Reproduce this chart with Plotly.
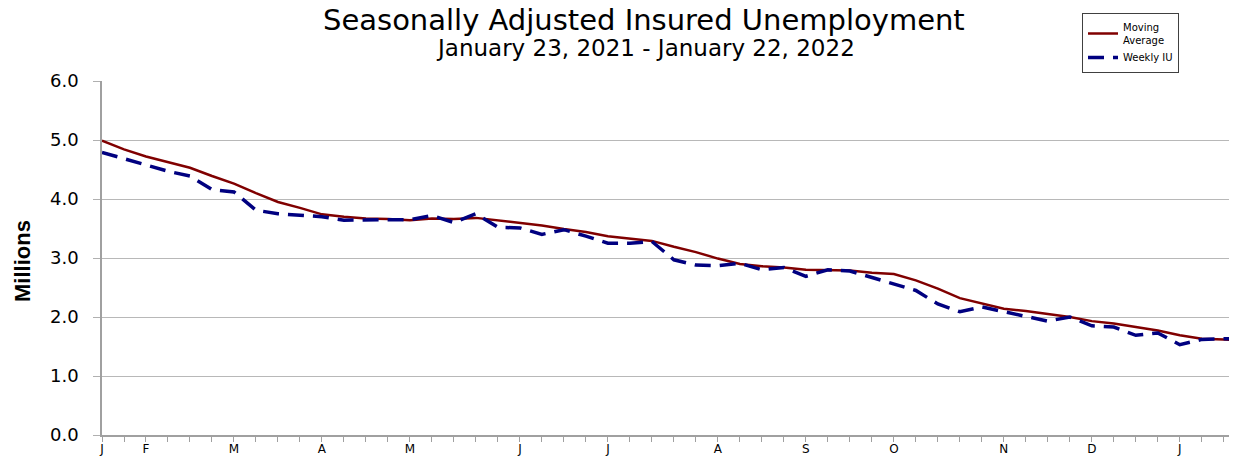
import plotly.graph_objects as go

weeks = list(range(53))
weekly_iu = [4.79, 4.68, 4.58, 4.47, 4.39, 4.16, 4.12, 3.81, 3.75, 3.72, 3.70, 3.64, 3.65,
             3.65, 3.65, 3.72, 3.60, 3.75, 3.52, 3.51, 3.40, 3.48, 3.37, 3.25, 3.25, 3.28,
             2.97, 2.88, 2.87, 2.91, 2.80, 2.84, 2.69, 2.80, 2.78, 2.67, 2.57, 2.45, 2.22,
             2.09, 2.17, 2.09, 2.00, 1.93, 2.00, 1.85, 1.83, 1.69, 1.73, 1.53, 1.62, 1.63, 1.64]
moving_avg = [4.99, 4.84, 4.72, 4.62, 4.53, 4.39, 4.26, 4.10, 3.95, 3.85, 3.74, 3.70, 3.67,
              3.66, 3.64, 3.67, 3.66, 3.68, 3.64, 3.60, 3.55, 3.49, 3.44, 3.37, 3.33, 3.29,
              3.19, 3.10, 2.99, 2.90, 2.86, 2.84, 2.80, 2.79, 2.79, 2.75, 2.73, 2.62, 2.48,
              2.32, 2.23, 2.14, 2.10, 2.05, 2.00, 1.93, 1.89, 1.83, 1.77, 1.69, 1.63, 1.62, 1.60]
month_labels = {0: "J", 2: "F", 6: "M", 10: "A", 14: "M", 19: "J", 23: "J",
                28: "A", 32: "S", 36: "O", 41: "N", 45: "D", 49: "J"}
y_ticks = [0, 1, 2, 3, 4, 5, 6]

# the page body has an 8px margin, so the figure starts at (8, 8) in the window
OFF = 8
W, H = 1237 - OFF, 458 - OFF
# plot area in window pixels: x 102..1237, y 81..435
ML, MR, MT, MB = 102 - OFF, 0, 81 - OFF, 458 - 435
PW, PH = W - ML - MR, H - MT - MB


def px_to_paper(px, py):
    """window pixel -> paper coordinates"""
    return (px - OFF - ML) / PW, (H - MB - (py - OFF)) / PH


fig = go.Figure()
fig.add_trace(go.Scatter(x=weeks, y=moving_avg, mode="lines", name="Moving<br>Average",
                         line=dict(color="#800000", width=2.5)))
fig.add_trace(go.Scatter(x=weeks, y=weekly_iu, mode="lines", name="Weekly IU",
                         line=dict(color="#000080", width=3.5, dash="16px,9px")))

wide = "DejaVu Sans, Verdana, sans-serif"
arial = "Liberation Sans, Arial, sans-serif"
lx, ly = px_to_paper(1082, 13)
tx, ty = px_to_paper(644, 20)
sx, sy = px_to_paper(645, 48)
mx, my = px_to_paper(22, 261)
fig.update_layout(
    width=W, height=H,
    margin=dict(l=ML, r=MR, t=MT, b=MB, autoexpand=False),
    paper_bgcolor="white", plot_bgcolor="white",
    font=dict(family=wide, color="black"),
    showlegend=True,
    legend=dict(x=lx, y=ly, xanchor="left", yanchor="top",
                bordercolor="#404040", borderwidth=1, bgcolor="white",
                font=dict(size=10, family=wide), tracegroupgap=0,
                itemwidth=30),
    xaxis=dict(range=[0, 51.6], tickmode="array", tickvals=weeks,
               ticktext=[month_labels.get(w, "") for w in weeks],
               ticks="outside", ticklen=5, tickcolor="#a0a0a0", automargin=False,
               ticklabelstandoff=-3,
               showgrid=False, showline=True, linecolor="#a0a0a0", linewidth=1.5,
               zeroline=False, tickfont=dict(size=12, family=wide)),
    yaxis=dict(range=[0, 6], tickvals=y_ticks, ticktext=[f"{v:.1f}" for v in y_ticks],
               ticks="outside", ticklen=7, tickcolor="#b0b0b0", automargin=False,
               ticklabelstandoff=11,
               showgrid=True, gridcolor="#b8b8b8", gridwidth=1.3,
               showline=True, linecolor="#a0a0a0", linewidth=1.5, zeroline=False,
               tickfont=dict(size=18, family=wide)),
    annotations=[
        dict(text="Seasonally Adjusted Insured Unemployment", x=tx, y=ty,
             xref="paper", yref="paper", xanchor="center", yanchor="middle",
             showarrow=False, font=dict(size=29, family=wide)),
        dict(text="January 23, 2021 - January 22, 2022", x=sx, y=sy,
             xref="paper", yref="paper", xanchor="center", yanchor="middle",
             showarrow=False, font=dict(size=23, family=wide)),
        dict(text="<b>Millions</b>", x=mx, y=my, textangle=-90,
             xref="paper", yref="paper", xanchor="center", yanchor="middle",
             showarrow=False, font=dict(size=22, family=arial)),
    ],
)

fig.write_html("out.html")
